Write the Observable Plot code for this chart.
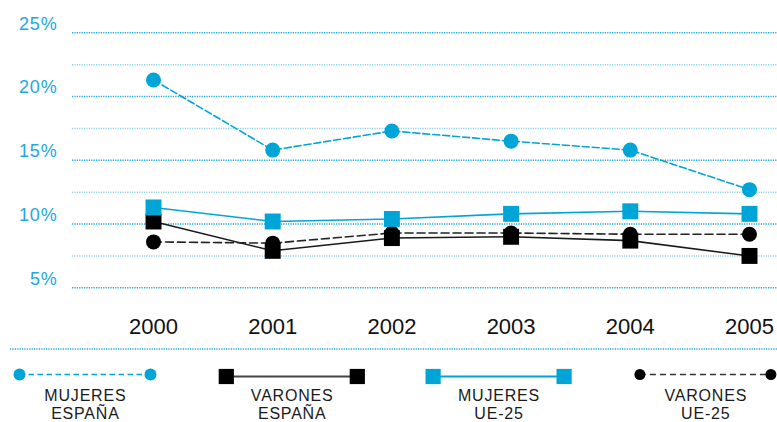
<!DOCTYPE html>
<html><head><meta charset="utf-8">
<script src="https://cdn.jsdelivr.net/npm/d3@7"></script>
<script src="https://cdn.jsdelivr.net/npm/@observablehq/plot@0.6"></script>
<style>
body{margin:0;background:#fff;font-family:"Liberation Sans",Arial,Helvetica,sans-serif;}
#chart svg,#legend svg{display:block}
</style></head><body><div id="chart"></div><div id="legend"></div>
<script>
// ---- data ----
const years = [2000, 2001, 2002, 2003, 2004, 2005];
const mujeresEspana = [21.3, 15.8, 17.3, 16.5, 15.8, 12.7];
const varonesEspana = [10.2, 7.9, 8.9, 9.0, 8.7, 7.5];
const mujeresUE25 = [11.3, 10.2, 10.4, 10.8, 11.0, 10.8];
const varonesUE25 = [8.6, 8.5, 9.3, 9.3, 9.2, 9.2];
const yTicks = [5, 10, 15, 20, 25];
const yMinorTicks = [7.5, 12.5, 17.5, 22.5];
const seriesLabels = [["MUJERES", "ESPAÑA"], ["VARONES", "ESPAÑA"], ["MUJERES", "UE-25"], ["VARONES", "UE-25"]];

// ---- styles ----
const CYAN = "#00a5d7";
const BLACK = "#000";
const styles = [
  {stroke: CYAN, dash: "7,3", legendDash: "5.5,3.5", symbol: "circle", legendLine: CYAN},
  {stroke: "#1a1a1a", dash: null, legendDash: null, symbol: "square", legendLine: "#444"},
  {stroke: CYAN, dash: null, legendDash: null, symbol: "square", legendLine: CYAN},
  {stroke: "#222", dash: "8,4", legendDash: "6,4", symbol: "circle", legendLine: "#333"}
];
const fills = [CYAN, BLACK, CYAN, BLACK];
const seriesValues = [mujeresEspana, varonesEspana, mujeresUE25, varonesUE25];
const tables = seriesValues.map(vals => years.map((yr, i) => ({year: yr, value: vals[i]})));

const W = 777, H = 342;
const left = 72, xFirst = 153, xLast = 749;
const perYear = (xLast - xFirst) / (years[years.length - 1] - years[0]);
const xDomain = [years[0] - (xFirst - left) / perYear, years[years.length - 1] + (W - xLast) / perYear];

const drawOrder = [1, 3, 2, 0];
const seriesMarks = [];
for (const k of drawOrder) {
  seriesMarks.push(Plot.line(tables[k], {x: "year", y: "value", stroke: styles[k].stroke, strokeWidth: 1.6, strokeDasharray: styles[k].dash}));
}
for (const k of drawOrder) {
  const sq = styles[k].symbol === "square";
  seriesMarks.push(Plot.dot(tables[k], {x: "year", y: "value", symbol: styles[k].symbol, r: sq ? 9 : 7.5, fill: fills[k], stroke: "none"}));
}

const chart = Plot.plot({
  width: W, height: H,
  marginLeft: left, marginRight: 0, marginTop: 32.3, marginBottom: H - 287.3,
  x: {type: "linear", domain: xDomain},
  y: {domain: [5, 25]},
  style: {fontFamily: '"Liberation Sans", Arial, Helvetica, sans-serif', background: "#fff"},
  marks: [
    Plot.ruleY(yMinorTicks, {stroke: "#8fd2ec", strokeDasharray: "1.2,1.2", strokeWidth: 1.4}),
    Plot.ruleY(yTicks, {stroke: "#1aa6da", strokeDasharray: "1.2,1.2", strokeWidth: 1.4}),
    Plot.axisY({ticks: yTicks, tickSize: 0, tickPadding: 15, tickFormat: d => d + "%", fontSize: 18, fill: "#22a8dc", dy: -9, label: null}),
    Plot.axisX({ticks: years, tickSize: 0, tickPadding: 31, tickFormat: d => String(d), fontSize: 22, fill: "#111", label: null}),
    ...seriesMarks
  ]
});
document.getElementById("chart").appendChild(chart);
d3.select(chart).selectAll('g[aria-label="y-axis tick label"] text').style("letter-spacing", "0.8px");

// ---- legend ----
const LH = 422 - H;
const lg = d3.select("#legend").append("svg").attr("width", W).attr("height", LH)
  .style("font-family", '"Liberation Sans", Arial, Helvetica, sans-serif');
lg.append("line").attr("x1", 10).attr("x2", W).attr("y1", 7).attr("y2", 7)
  .attr("stroke", "#1aa6da").attr("stroke-width", 1.4).attr("stroke-dasharray", "1.2,1.2");
const groupStart = 85, groupStep = 206.8, half = 65.5;
seriesLabels.forEach((lab, k) => {
  const cx = groupStart + k * groupStep;
  const sq = styles[k].symbol === "square";
  const my = sq ? 34.5 : 32.5;
  lg.append("line").attr("x1", cx - half).attr("x2", cx + half).attr("y1", my).attr("y2", my)
    .attr("stroke", styles[k].legendLine).attr("stroke-width", sq ? 1.8 : 1.6)
    .attr("stroke-dasharray", styles[k].legendDash);
  [cx - half, cx + half].forEach(px => {
    if (sq) lg.append("rect").attr("x", px - 7.6).attr("y", my - 7.6).attr("width", 15.2).attr("height", 15.2).attr("fill", fills[k]);
    else lg.append("circle").attr("cx", px).attr("cy", my).attr("r", k === 0 ? 6 : 5.5).attr("fill", fills[k]);
  });
  lab.forEach((t, j) => {
    lg.append("text").attr("x", cx + 0.4).attr("y", 58.5 + j * 18).attr("text-anchor", "middle")
      .attr("font-size", 16).style("letter-spacing", "0.8px").attr("fill", "#1a1a1a").text(t);
  });
});
</script></body></html>
